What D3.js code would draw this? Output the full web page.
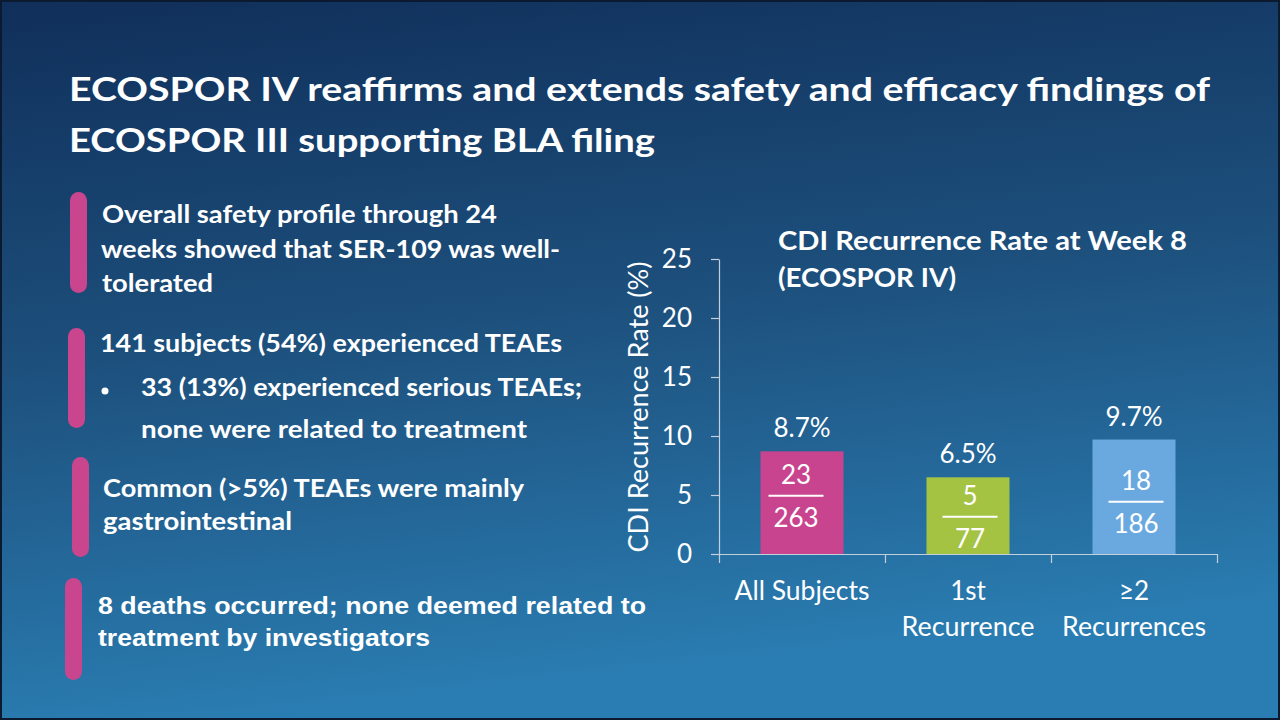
<!DOCTYPE html>
<html><head><meta charset="utf-8">
<script src="https://cdn.jsdelivr.net/npm/d3@7"></script>
<style>html,body{margin:0;padding:0;background:#0c1b30;overflow:hidden}svg{display:block}</style>
</head><body><script>
// ---------- data ----------
const categories = ["All Subjects", "1st Recurrence", "≥2 Recurrences"];
const categoryLines = [["All Subjects"], ["1st", "Recurrence"], ["≥2", "Recurrences"]];
const rates = [8.7, 6.5, 9.7];
const rateLabels = ["8.7%", "6.5%", "9.7%"];
const numerators = [23, 5, 18];
const denominators = [263, 77, 186];
const yTicks = [0, 5, 10, 15, 20, 25];
const yAxisTitle = "CDI Recurrence Rate (%)";
const chartTitle = ["CDI Recurrence Rate at Week 8", "(ECOSPOR IV)"];
const pageTitle = ["ECOSPOR IV reaffirms and extends safety and efficacy findings of", "ECOSPOR III supporting BLA filing"];

// ---------- styles / layout ----------
const barColors = ["#c8448f", "#a5c343", "#6aa9e0"];
const pink = "#c9468f";
const axisColor = "#c3cfdb";
const fracDy = [-7, 1, 5];
const fracDx = [-6, 2, 2];
const W = 1280, H = 720;
const CAL = "Lato, 'Open Sans', sans-serif";
const ARIAL = "'Liberation Sans', Arial, sans-serif";

const svg = d3.select("body").append("svg").attr("width", W).attr("height", H);
const defs = svg.append("defs");
const grad = defs.append("linearGradient").attr("id", "bg")
  .attr("x1", 0).attr("y1", 0).attr("x2", 0.2).attr("y2", 1);
grad.append("stop").attr("offset", 0).attr("stop-color", "#102f5a");
grad.append("stop").attr("offset", 0.5).attr("stop-color", "#1d507d");
grad.append("stop").attr("offset", 1).attr("stop-color", "#2a7db2");

svg.append("rect").attr("width", W).attr("height", H).attr("fill", "#0b1a2e");
svg.append("rect").attr("x", 2).attr("y", 2).attr("width", W - 4).attr("height", H - 4).attr("fill", "url(#bg)");

function fit(sel, w) {
  sel.attr("textLength", w).attr("lengthAdjust", "spacingAndGlyphs");
  return sel;
}
function addText(g, t, x, y, opts) {
  const s = g.append("text").attr("x", x).attr("y", y).text(t)
    .attr("fill", "#ffffff")
    .attr("font-family", opts.font || CAL)
    .attr("font-size", opts.size || 24)
    .attr("font-weight", opts.weight || 400)
    .attr("text-anchor", opts.anchor || "start");
  if (opts.w) fit(s, opts.w);
  return s;
}

// ---------- page title ----------
const tg = svg.append("g");
addText(tg, pageTitle[0], 69, 101, { size: 33, weight: 700, w: 1141 });
addText(tg, pageTitle[1], 69, 152, { size: 33, weight: 700, w: 586 });

// ---------- left bullets ----------
const lg = svg.append("g");
const pinkBars = [
  { x: 70, y: 192, h: 101 },
  { x: 68, y: 328, h: 100 },
  { x: 72, y: 457, h: 100 },
  { x: 65, y: 578, h: 102 }
];
lg.selectAll("rect.pb").data(pinkBars).join("rect").attr("class", "pb")
  .attr("x", d => d.x).attr("y", d => d.y).attr("width", 17).attr("height", d => d.h)
  .attr("rx", 8.5).attr("fill", pink);

const leftLines = [
  { t: "Overall safety profile through 24", x: 102, y: 223, w: 395 },
  { t: "weeks showed that SER-109 was well-", x: 101, y: 258, w: 459 },
  { t: "tolerated", x: 102, y: 292, w: 111 },
  { t: "141 subjects (54%) experienced TEAEs", x: 100, y: 352, w: 462 },
  { t: "33 (13%) experienced serious TEAEs;", x: 141, y: 396, w: 441 },
  { t: "none were related to treatment", x: 141, y: 438, w: 386 },
  { t: "Common (>5%) TEAEs were mainly", x: 103, y: 497, w: 421 },
  { t: "gastrointestinal", x: 103, y: 530, w: 189 }
];
leftLines.forEach(d => addText(lg, d.t, d.x, d.y, { size: 25, weight: 700, w: d.w }));
lg.append("circle").attr("cx", 105).attr("cy", 391).attr("r", 3.5).attr("fill", "#ffffff");
addText(lg, "8 deaths occurred; none deemed related to", 98, 614, { font: ARIAL, size: 23, weight: 700, w: 548 });
addText(lg, "treatment by investigators", 98, 646, { font: ARIAL, size: 23, weight: 700, w: 332 });

// ---------- chart ----------
const y = d3.scaleLinear().domain([0, 25]).range([554, 259]);
const x = d3.scaleBand().domain(categories).range([719, 1217]).paddingInner(0.5).paddingOuter(0.25);
const xb = d3.scaleLinear().domain([0, categories.length]).range([719, 1217]);

const cg = svg.append("g");

// y axis
const yAxis = cg.append("g").attr("transform", "translate(719,0)")
  .call(d3.axisLeft(y).tickValues(yTicks).tickSize(8).tickSizeOuter(0).tickPadding(19));
yAxis.select(".domain").attr("stroke", axisColor).attr("stroke-width", 1.2);
yAxis.selectAll(".tick line").attr("stroke", axisColor).attr("stroke-width", 1.2);
yAxis.selectAll(".tick text").attr("fill", "#ffffff").attr("font-family", CAL).attr("font-size", 26);

// x axis boundary ticks
const xAxisB = cg.append("g").attr("transform", "translate(0,554)")
  .call(d3.axisBottom(xb).tickValues(d3.range(categories.length + 1)).tickSize(9).tickSizeOuter(0).tickFormat(""));
xAxisB.select(".domain").attr("stroke", axisColor).attr("stroke-width", 1.2);
xAxisB.selectAll(".tick line").attr("stroke", axisColor).attr("stroke-width", 1.2);

// x axis labels
const xAxis = cg.append("g").attr("transform", "translate(0,554)")
  .call(d3.axisBottom(x).tickSize(0).tickSizeOuter(0));
xAxis.select(".domain").remove();
xAxis.selectAll(".tick text").remove();
const labelWidths = { "All Subjects": 135, "Recurrence": 133, "Recurrences": 144 };
xAxis.selectAll(".tick").each(function (d, i) {
  const g = d3.select(this);
  categoryLines[i].forEach((ln, j) => {
    const s = g.append("text").attr("x", 0).attr("y", 46 + j * 36).text(ln)
      .attr("fill", "#ffffff").attr("font-family", CAL).attr("font-size", 26)
      .attr("text-anchor", "middle");
    if (labelWidths[ln]) fit(s, labelWidths[ln]);
  });
});

// bars
cg.selectAll("rect.bar").data(rates).join("rect").attr("class", "bar")
  .attr("x", (d, i) => x(categories[i]))
  .attr("y", d => y(d))
  .attr("width", x.bandwidth())
  .attr("height", d => y(0) - y(d))
  .attr("fill", (d, i) => barColors[i]);

// rate labels
cg.selectAll("text.rate").data(rates).join("text").attr("class", "rate")
  .attr("x", (d, i) => x(categories[i]) + x.bandwidth() / 2)
  .attr("y", d => y(d) - 14)
  .attr("text-anchor", "middle").attr("fill", "#ffffff")
  .attr("font-family", CAL).attr("font-size", 26)
  .text((d, i) => rateLabels[i]);

// fractions
rates.forEach((v, i) => {
  const cx = x(categories[i]) + x.bandwidth() / 2 + fracDx[i];
  const ly = y(v / 2) + fracDy[i];
  cg.append("line").attr("x1", cx - 27.5).attr("x2", cx + 27.5).attr("y1", ly).attr("y2", ly)
    .attr("stroke", "#ffffff").attr("stroke-width", 2);
  addText(cg, String(numerators[i]), cx, ly - 12, { size: 26, anchor: "middle" });
  addText(cg, String(denominators[i]), cx, ly + 31, { size: 26, anchor: "middle" });
});

// y axis title
const yt = cg.append("text").attr("transform", "translate(648,407) rotate(-90)")
  .attr("text-anchor", "middle").attr("fill", "#ffffff")
  .attr("font-family", CAL).attr("font-size", 26).text(yAxisTitle);
fit(yt, 291);

// chart title
addText(cg, chartTitle[0], 778, 250, { size: 27, weight: 700, w: 409 });
addText(cg, chartTitle[1], 778, 287, { size: 27, weight: 700, w: 178 });
</script></body></html>
